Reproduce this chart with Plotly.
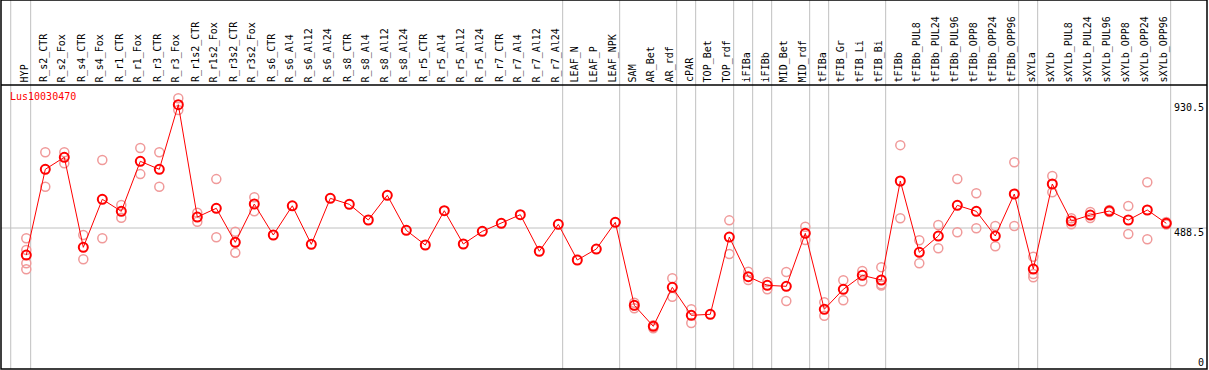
import plotly.graph_objects as go

categories = ["HYP", "R_s2_CTR", "R_s2_Fox", "R_s4_CTR", "R_s4_Fox", "R_r1_CTR", "R_r1_Fox",
              "R_r3_CTR", "R_r3_Fox", "R_r1s2_CTR", "R_r1s2_Fox", "R_r3s2_CTR", "R_r3s2_Fox",
              "R_s6_CTR", "R_s6_Al4", "R_s6_Al12", "R_s6_Al24", "R_s8_CTR", "R_s8_Al4",
              "R_s8_Al12", "R_s8_Al24", "R_r5_CTR", "R_r5_Al4", "R_r5_Al12", "R_r5_Al24",
              "R_r7_CTR", "R_r7_Al4", "R_r7_Al12", "R_r7_Al24", "LEAF_N", "LEAF_P", "LEAF_NPK",
              "SAM", "AR_Bet", "AR_rdf", "cPAR", "TOP_Bet", "TOP_rdf", "iFIBa", "iFIBb",
              "MID_Bet", "MID_rdf", "tFIBa", "tFIB_Gr", "tFIB_Li", "tFIB_Bi", "tFIBb",
              "tFIBb_PUL8", "tFIBb_PUL24", "tFIBb_PUL96", "tFIBb_OPP8", "tFIBb_OPP24",
              "tFIBb_OPP96", "sXYLa", "sXYLb", "sXYLb_PUL8", "sXYLb_PUL24", "sXYLb_PUL96",
              "sXYLb_OPP8", "sXYLb_OPP24", "sXYLb_OPP96"]

means = [391.7, 698.9, 742, 419.3, 591.4, 548.3, 727.6, 698.9, 930.5, 527.9, 559.1, 437.2,
         574.5, 463.4, 568.1, 430.1, 594.9, 573.4, 517.2, 605.7, 480.2, 427.6, 550.5, 431.2,
         476.6, 505.3, 536.2, 405, 501.8, 373.8, 413.2, 508.9, 211.4, 136.2, 276, 175.6,
         179.2, 456.2, 314, 283.1, 279.5, 469.5, 197.2, 268.8, 319, 302.1, 657, 401.4,
         459.8, 569.8, 548.3, 459.8, 610.4, 341.5, 646.2, 513.6, 535, 549.4, 517.2, 553,
         505.3]

replicates = [[451.6, 409.6, 362, 340.5], [759.8, 636.5], [759.8, 720.4], [463.4, 376.3],
              [732, 451.6], [570.9, 525.4], [775.2, 681.7], [759.8, 636.5], [953.4, 911.4],
              [543.3, 511], [663.8, 455.2], [475.2, 400], [598.5, 548.3],
              [], [], [], [], [], [], [], [], [], [], [], [], [], [], [], [], [], [], [],
              [220.9, 200.8, 211], [129, 140], [308.2, 242.3], [197.3, 148.2], [],
              [516, 395.3], [332, 302.1], [295, 268.8], [330.6, 226.6], [493.2, 445.5],
              [222.3, 174.2], [301, 229.4], [334.4, 297.5], [348.2, 282.1, 287],
              [785.5, 523.3], [444.4, 362], [499.3, 415.7], [664.1, 473.1], [612.9, 487.4],
              [495.7, 422.9], [724, 495.7], [385.6, 323.6, 311.7], [674.8, 616.5],
              [523.3, 501.8], [545.8, 524], [553, 546], [567.4, 467], [652.3, 448], [510, 501]]

group_ends = ["HYP", "R_r7_Al24", "LEAF_NPK", "AR_rdf", "cPAR", "TOP_rdf", "iFIBa", "iFIBb",
              "MID_rdf", "tFIBa", "tFIB_Bi", "tFIBb_OPP96", "sXYLa", "sXYLb_OPP96"]

gene = "Lus10030470"
ref_value = 488.5
max_value = 930.5

W, H = 1209, 370
ML, MR, MT, MB = 1, 2, 85, 1
plot_h = H - MT - MB
top_paper = 1 + MT / plot_h

idx = list(range(len(categories)))
rep_x, rep_y = [], []
for i, reps in enumerate(replicates):
    for v in reps:
        rep_x.append(i)
        rep_y.append(v)

fig = go.Figure()

shapes = []
shapes.append(dict(type="line", xref="x", yref="paper", x0=-0.82, x1=-0.82, y0=0, y1=top_paper,
                   line=dict(color="#c0c0c0", width=1), layer="below"))
for name in group_ends:
    xi = categories.index(name) + 0.23
    shapes.append(dict(type="line", xref="x", yref="paper", x0=xi, x1=xi, y0=0, y1=top_paper,
                       line=dict(color="#c0c0c0", width=1), layer="below"))
shapes.append(dict(type="line", xref="paper", yref="y", x0=0, x1=1, y0=ref_value, y1=ref_value,
                   line=dict(color="#c0c0c0", width=1), layer="below"))
shapes.append(dict(type="rect", xref="paper", yref="paper", x0=0, x1=1, y0=0, y1=top_paper,
                   line=dict(color="black", width=1.5)))
shapes.append(dict(type="line", xref="paper", yref="paper", x0=0, x1=1, y0=1, y1=1,
                   line=dict(color="black", width=1.5)))

fig.add_trace(go.Scatter(x=rep_x, y=rep_y, mode="markers",
                         marker=dict(symbol="circle-open", size=9, color="#f09a9a",
                                     line=dict(width=1.5, color="#f09a9a")),
                         hoverinfo="skip", showlegend=False))
fig.add_trace(go.Scatter(x=idx, y=means, mode="lines+markers",
                         line=dict(color="red", width=1),
                         marker=dict(symbol="circle-open", size=9, color="red",
                                     line=dict(width=2, color="red")),
                         text=categories, showlegend=False))

annotations = []
for i, name in enumerate(categories):
    annotations.append(dict(x=i - 0.1, xref="x", y=1, yref="paper", text=name,
                            textangle=-90, xanchor="center", yanchor="bottom", yshift=1,
                            showarrow=False,
                            font=dict(family="DejaVu Sans Mono", size=10, color="black")))
annotations.append(dict(x=0, xref="paper", y=1, yref="paper", text=gene, xanchor="left",
                        yanchor="top", xshift=7, yshift=-4, showarrow=False,
                        font=dict(family="DejaVu Sans Mono", size=10, color="red")))
for val, shift in [(max_value, -3), (ref_value, -4), (0, 2)]:
    txt = ("%g" % val)
    annotations.append(dict(x=1, xref="paper", y=val, yref="y", text=txt, xanchor="right",
                            yanchor="middle", xshift=-1, yshift=shift, showarrow=False,
                            font=dict(family="DejaVu Sans Mono", size=10, color="black")))

# pixel mapping: x_px = 26.3 + 19*i ; y_px = 364.3 - 0.279*v
x0 = (ML - 26.3) / 19.0
x1 = (W - MR - 26.3) / 19.0
y_lo = (364.3 - (H - MB)) / 0.279
y_hi = (364.3 - MT) / 0.279

fig.update_layout(
    width=W, height=H,
    margin=dict(l=ML, r=MR, t=MT, b=MB, pad=0),
    paper_bgcolor="white", plot_bgcolor="white",
    xaxis=dict(range=[x0, x1], showgrid=False, zeroline=False, showticklabels=False,
               ticks="", fixedrange=True),
    yaxis=dict(range=[y_lo, y_hi], showgrid=False, zeroline=False, showticklabels=False,
               ticks="", fixedrange=True),
    shapes=shapes, annotations=annotations,
)

fig.write_html("out.html", config={"displayModeBar": False},
               post_script="document.body.style.margin='0';document.body.style.overflow='hidden';")
